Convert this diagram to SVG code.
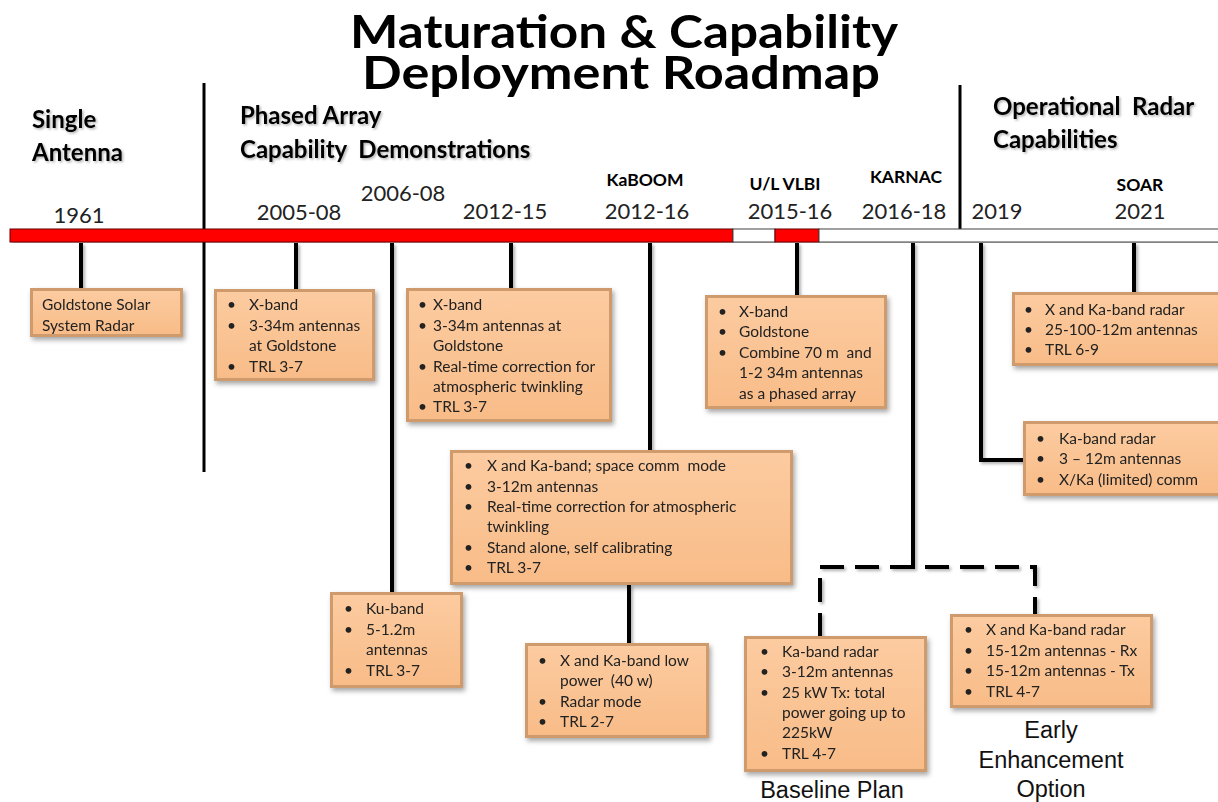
<svg xmlns="http://www.w3.org/2000/svg" width="1218" height="802" viewBox="0 0 1218 802">
<defs>
<linearGradient id="peach" x1="0" y1="0" x2="0" y2="1">
<stop offset="0" stop-color="#FCCBA0"/>
<stop offset="1" stop-color="#F8BC88"/>
</linearGradient>
<filter id="sh" x="-10%" y="-10%" width="130%" height="140%">
<feDropShadow dx="2" dy="3" stdDeviation="2.5" flood-color="#000" flood-opacity="0.35"/>
</filter>
<filter id="lsh" x="-50%" y="-5%" width="200%" height="110%">
<feDropShadow dx="2" dy="2" stdDeviation="1.5" flood-color="#000" flood-opacity="0.3"/>
</filter>
<filter id="tsh" x="-5%" y="-20%" width="110%" height="150%">
<feDropShadow dx="1.5" dy="1.5" stdDeviation="1" flood-color="#000" flood-opacity="0.3"/>
</filter>
</defs>
<style>
.t{font-family:Lato,"Open Sans","Liberation Sans",sans-serif;fill:#000;white-space:pre}
.title{font-size:45px;font-weight:bold;text-anchor:middle}
.head{font-size:24px;font-weight:bold}
.yr{font-size:22px;text-anchor:middle;fill:#222}
.tag{font-size:17.5px;font-weight:bold;text-anchor:middle}
.bx{font-size:15.5px;fill:#222}
.ann{font-family:"Liberation Sans",Arial,sans-serif;font-size:23.5px;text-anchor:middle;fill:#111}
.edge{fill:#CF9A6C}
.face{fill:url(#peach)}
.ln{stroke:#000;stroke-width:4;fill:none}
.dv{stroke:#000;stroke-width:3;fill:none}
.dash{stroke:#000;stroke-width:4;fill:none;stroke-dasharray:24 11}
</style>
<rect width="1218" height="802" fill="#fff"/>

<g id="title">
<text class="t title" x="624" y="48" textLength="548" lengthAdjust="spacingAndGlyphs">Maturation &amp; Capability</text>
<text class="t title" x="621" y="89" textLength="518" lengthAdjust="spacingAndGlyphs">Deployment Roadmap</text>
</g>

<g id="headings" filter="url(#tsh)">
<text class="t head" x="32" y="128">Single</text>
<text class="t head" x="32" y="161">Antenna</text>
<text class="t head" x="240" y="124">Phased Array</text>
<text class="t head" x="240" y="158">Capability  Demonstrations</text>
<text class="t head" x="993" y="115">Operational  Radar</text>
<text class="t head" x="993" y="148">Capabilities</text>
</g>

<g id="years">
<text class="t yr" x="79" y="223">1961</text>
<text class="t yr" x="299" y="220">2005-08</text>
<text class="t yr" x="403" y="201">2006-08</text>
<text class="t yr" x="505" y="219">2012-15</text>
<text class="t tag" x="645" y="186">KaBOOM</text>
<text class="t yr" x="647" y="219">2012-16</text>
<text class="t tag" x="785" y="190">U/L VLBI</text>
<text class="t yr" x="790" y="219">2015-16</text>
<text class="t tag" x="906" y="183">KARNAC</text>
<text class="t yr" x="904" y="219">2016-18</text>
<text class="t yr" x="997" y="219">2019</text>
<text class="t tag" x="1140" y="191">SOAR</text>
<text class="t yr" x="1140" y="219">2021</text>
</g>

<g id="dividers">
<line class="dv" x1="204" y1="83" x2="204" y2="472"/>
<line class="dv" x1="960" y1="85" x2="960" y2="230"/>
</g>

<g id="timeline" filter="url(#lsh)">
<rect x="10" y="229" width="723" height="13" fill="#FF0000" stroke="#600" stroke-width="1"/>
<rect x="733" y="229" width="42" height="13" fill="#fff" stroke="#444" stroke-width="1"/>
<rect x="775" y="229" width="44" height="13" fill="#FF0000" stroke="#600" stroke-width="1"/>
<rect x="819" y="229" width="405" height="13" fill="#fff" stroke="#444" stroke-width="1"/>
</g>

<g id="connectors" filter="url(#lsh)">
<line class="ln" x1="81" y1="243" x2="81" y2="290"/>
<line class="ln" x1="296" y1="243" x2="296" y2="290"/>
<line class="ln" x1="392" y1="243" x2="392" y2="594"/>
<line class="ln" x1="511" y1="243" x2="511" y2="289"/>
<line class="ln" x1="650" y1="243" x2="650" y2="451"/>
<line class="ln" x1="629" y1="585" x2="629" y2="644"/>
<line class="ln" x1="797" y1="243" x2="797" y2="297"/>
<line class="ln" x1="913" y1="243" x2="913" y2="569"/>
<path class="dash" d="M820,637 V567 H1035 V615"/>
<path class="ln" d="M981,243 V460 H1025"/>
<line class="ln" x1="1134" y1="243" x2="1134" y2="293"/>
</g>

<g id="n1961" filter="url(#sh)">
<rect class="edge" x="30" y="288" width="153" height="49"/>
<rect class="face" x="33" y="291" width="147" height="43"/>
<text class="t bx" x="42" y="310">Goldstone Solar</text>
<text class="t bx" x="42" y="331">System Radar</text>
</g>

<g id="n2005" filter="url(#sh)">
<rect class="edge" x="214" y="289" width="161" height="92"/>
<rect class="face" x="217" y="292" width="155" height="86"/>
<text class="t bx" x="227" y="310">•</text><text class="t bx" x="249" y="310">X-band</text>
<text class="t bx" x="227" y="331">•</text><text class="t bx" x="249" y="331">3-34m antennas</text>
<text class="t bx" x="249" y="351">at Goldstone</text>
<text class="t bx" x="227" y="372">•</text><text class="t bx" x="249" y="372">TRL 3-7</text>
</g>

<g id="n2012a" filter="url(#sh)">
<rect class="edge" x="406" y="288" width="206" height="134"/>
<rect class="face" x="409" y="291" width="200" height="128"/>
<text class="t bx" x="418" y="310">•</text><text class="t bx" x="433" y="310">X-band</text>
<text class="t bx" x="418" y="331">•</text><text class="t bx" x="433" y="331">3-34m antennas at</text>
<text class="t bx" x="433" y="351">Goldstone</text>
<text class="t bx" x="418" y="372">•</text><text class="t bx" x="433" y="372">Real-time correction for</text>
<text class="t bx" x="433" y="392">atmospheric twinkling</text>
<text class="t bx" x="418" y="412">•</text><text class="t bx" x="433" y="412">TRL 3-7</text>
</g>

<g id="nvlbi" filter="url(#sh)">
<rect class="edge" x="705" y="295" width="182" height="114"/>
<rect class="face" x="708" y="298" width="176" height="108"/>
<text class="t bx" x="718" y="317">•</text><text class="t bx" x="739" y="317">X-band</text>
<text class="t bx" x="718" y="337">•</text><text class="t bx" x="739" y="337">Goldstone</text>
<text class="t bx" x="718" y="358">•</text><text class="t bx" x="739" y="358">Combine 70 m  and</text>
<text class="t bx" x="739" y="378">1-2 34m antennas</text>
<text class="t bx" x="739" y="399">as a phased array</text>
</g>

<g id="nsoar" filter="url(#sh)">
<rect class="edge" x="1012" y="292" width="210" height="74"/>
<rect class="face" x="1015" y="295" width="204" height="68"/>
<text class="t bx" x="1024" y="315">•</text><text class="t bx" x="1045" y="315">X and Ka-band radar</text>
<text class="t bx" x="1024" y="335">•</text><text class="t bx" x="1045" y="335">25-100-12m antennas</text>
<text class="t bx" x="1024" y="355">•</text><text class="t bx" x="1045" y="355">TRL 6-9</text>
</g>

<g id="n2019" filter="url(#sh)">
<rect class="edge" x="1023" y="421" width="199" height="75"/>
<rect class="face" x="1026" y="424" width="193" height="69"/>
<text class="t bx" x="1036" y="444">•</text><text class="t bx" x="1059" y="444">Ka-band radar</text>
<text class="t bx" x="1036" y="464">•</text><text class="t bx" x="1059" y="464">3 – 12m antennas</text>
<text class="t bx" x="1036" y="485">•</text><text class="t bx" x="1059" y="485">X/Ka (limited) comm</text>
</g>

<g id="nkaboom" filter="url(#sh)">
<rect class="edge" x="450" y="450" width="343" height="135"/>
<rect class="face" x="453" y="453" width="337" height="129"/>
<text class="t bx" x="464" y="471">•</text><text class="t bx" x="487" y="471">X and Ka-band; space comm  mode</text>
<text class="t bx" x="464" y="492">•</text><text class="t bx" x="487" y="492">3-12m antennas</text>
<text class="t bx" x="464" y="512">•</text><text class="t bx" x="487" y="512">Real-time correction for atmospheric</text>
<text class="t bx" x="487" y="532">twinkling</text>
<text class="t bx" x="464" y="553">•</text><text class="t bx" x="487" y="553">Stand alone, self calibrating</text>
<text class="t bx" x="464" y="573">•</text><text class="t bx" x="487" y="573">TRL 3-7</text>
</g>

<g id="nku" filter="url(#sh)">
<rect class="edge" x="330" y="592" width="133" height="96"/>
<rect class="face" x="333" y="595" width="127" height="90"/>
<text class="t bx" x="344" y="614">•</text><text class="t bx" x="366" y="614">Ku-band</text>
<text class="t bx" x="344" y="635">•</text><text class="t bx" x="366" y="635">5-1.2m</text>
<text class="t bx" x="366" y="655">antennas</text>
<text class="t bx" x="344" y="676">•</text><text class="t bx" x="366" y="676">TRL 3-7</text>
</g>

<g id="nlow" filter="url(#sh)">
<rect class="edge" x="525" y="643" width="184" height="95"/>
<rect class="face" x="528" y="646" width="178" height="89"/>
<text class="t bx" x="538" y="666">•</text><text class="t bx" x="560" y="666">X and Ka-band low</text>
<text class="t bx" x="560" y="686">power  (40 w)</text>
<text class="t bx" x="538" y="707">•</text><text class="t bx" x="560" y="707">Radar mode</text>
<text class="t bx" x="538" y="727">•</text><text class="t bx" x="560" y="727">TRL 2-7</text>
</g>

<g id="nbaseline" filter="url(#sh)">
<rect class="edge" x="744" y="636" width="183" height="136"/>
<rect class="face" x="747" y="639" width="177" height="130"/>
<text class="t bx" x="760" y="657">•</text><text class="t bx" x="782" y="657">Ka-band radar</text>
<text class="t bx" x="760" y="677">•</text><text class="t bx" x="782" y="677">3-12m antennas</text>
<text class="t bx" x="760" y="698">•</text><text class="t bx" x="782" y="698">25 kW Tx: total</text>
<text class="t bx" x="782" y="718">power going up to</text>
<text class="t bx" x="782" y="738">225kW</text>
<text class="t bx" x="760" y="759">•</text><text class="t bx" x="782" y="759">TRL 4-7</text>
</g>

<g id="nearly" filter="url(#sh)">
<rect class="edge" x="950" y="614" width="203" height="94"/>
<rect class="face" x="953" y="617" width="197" height="88"/>
<text class="t bx" x="964" y="635">•</text><text class="t bx" x="986" y="635">X and Ka-band radar</text>
<text class="t bx" x="964" y="656">•</text><text class="t bx" x="986" y="656">15-12m antennas - Rx</text>
<text class="t bx" x="964" y="676">•</text><text class="t bx" x="986" y="676">15-12m antennas - Tx</text>
<text class="t bx" x="964" y="697">•</text><text class="t bx" x="986" y="697">TRL 4-7</text>
</g>

<g id="annotations">
<text class="ann" x="832" y="798">Baseline Plan</text>
<text class="ann" x="1051" y="738">Early</text>
<text class="ann" x="1051" y="768">Enhancement</text>
<text class="ann" x="1051" y="797">Option</text>
</g>
</svg>
